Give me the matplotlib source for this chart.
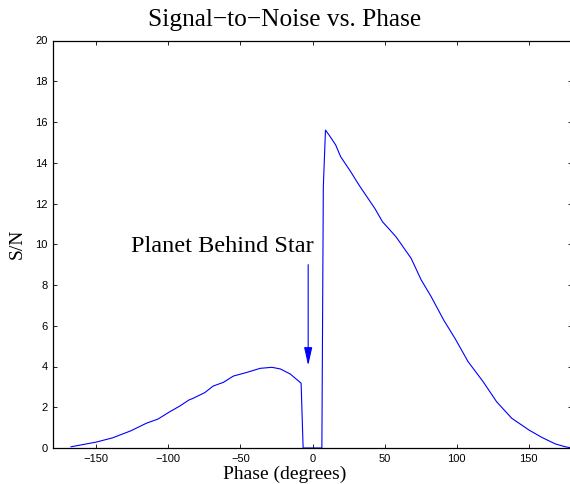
import matplotlib
matplotlib.use("Agg")
import matplotlib.pyplot as plt

# phase (deg) and S/N
phase = [-167.5, -150, -138.6, -125.8, -115.4, -107.2, -99, -92, -85.6, -82.8,
         -74.7, -68.9, -61.9, -54.9, -45.6, -36.3, -28.1, -22.3, -15.4, -7.9,
         -6.5, 6.5, 7.5, 9, 11.4, 16.1, 19.5, 26.5, 32.3, 43.3,
         48.6, 57.9, 68.4, 75.4, 82.3, 91, 99, 107.9, 118.4, 127.7,
         138.2, 150.2, 159.1, 168.4, 175.4, 180]
sn = [0.06, 0.29, 0.5, 0.85, 1.21, 1.42, 1.78, 2.06, 2.36, 2.44,
      2.72, 3.04, 3.22, 3.53, 3.71, 3.91, 3.96, 3.88, 3.63, 3.18,
      0, 0, 12.8, 15.6, 15.37, 14.87, 14.3, 13.56, 12.9, 11.75,
      11.1, 10.37, 9.31, 8.25, 7.43, 6.28, 5.36, 4.24, 3.25, 2.27,
      1.46, 0.88, 0.52, 0.2, 0.06, 0.0]

xticks = [-150, -100, -50, 0, 50, 100, 150]
yticks = list(range(0, 21, 2))

serif = ["Liberation Serif", "DejaVu Serif"]
sans = ["Liberation Sans", "DejaVu Sans"]

fig = plt.figure(figsize=(5.7, 4.84), dpi=100)
W, H = 570, 484
ax = fig.add_axes([53 / W, 36 / H, (572 - 53) / W, (448 - 40.5) / H])

ax.plot(phase, sn, color="blue", lw=0.8)
ax.set_xlim(-180, 180)
ax.set_ylim(0, 20)
ax.set_xticks(xticks)
ax.set_yticks(yticks)
ax.tick_params(direction="in", length=3, width=0.6, top=True, right=True,
               labelsize=8, pad=4)
for lab in ax.get_xticklabels() + ax.get_yticklabels():
    lab.set_family(sans)
for s in ax.spines.values():
    s.set_linewidth(0.9)

# annotation
ax.annotate("", xy=(-3, 4.05), xytext=(-3, 9.0),
            arrowprops=dict(arrowstyle="-|>,head_length=1.1,head_width=0.25",
                            color="blue", lw=0.8, mutation_scale=10,
                            shrinkA=0, shrinkB=0))
ax.text(0.5, 9.64, "Planet Behind Star", ha="right", va="baseline",
        fontsize=17.5, family=serif)

fig.text(0.5, 1 - 26 / H, "Signal\u2212to\u2212Noise vs. Phase", ha="center",
         va="baseline", fontsize=18.3, family=serif)
fig.text(0.5, 1 - 479 / H, "Phase (degrees)", ha="center", va="baseline",
         fontsize=14, family=serif)
fig.text(17 / W, 1 - 244 / H, "S/N", rotation=90, ha="center", va="center",
         fontsize=14, family=serif)

fig.savefig("out.png", dpi=100)
